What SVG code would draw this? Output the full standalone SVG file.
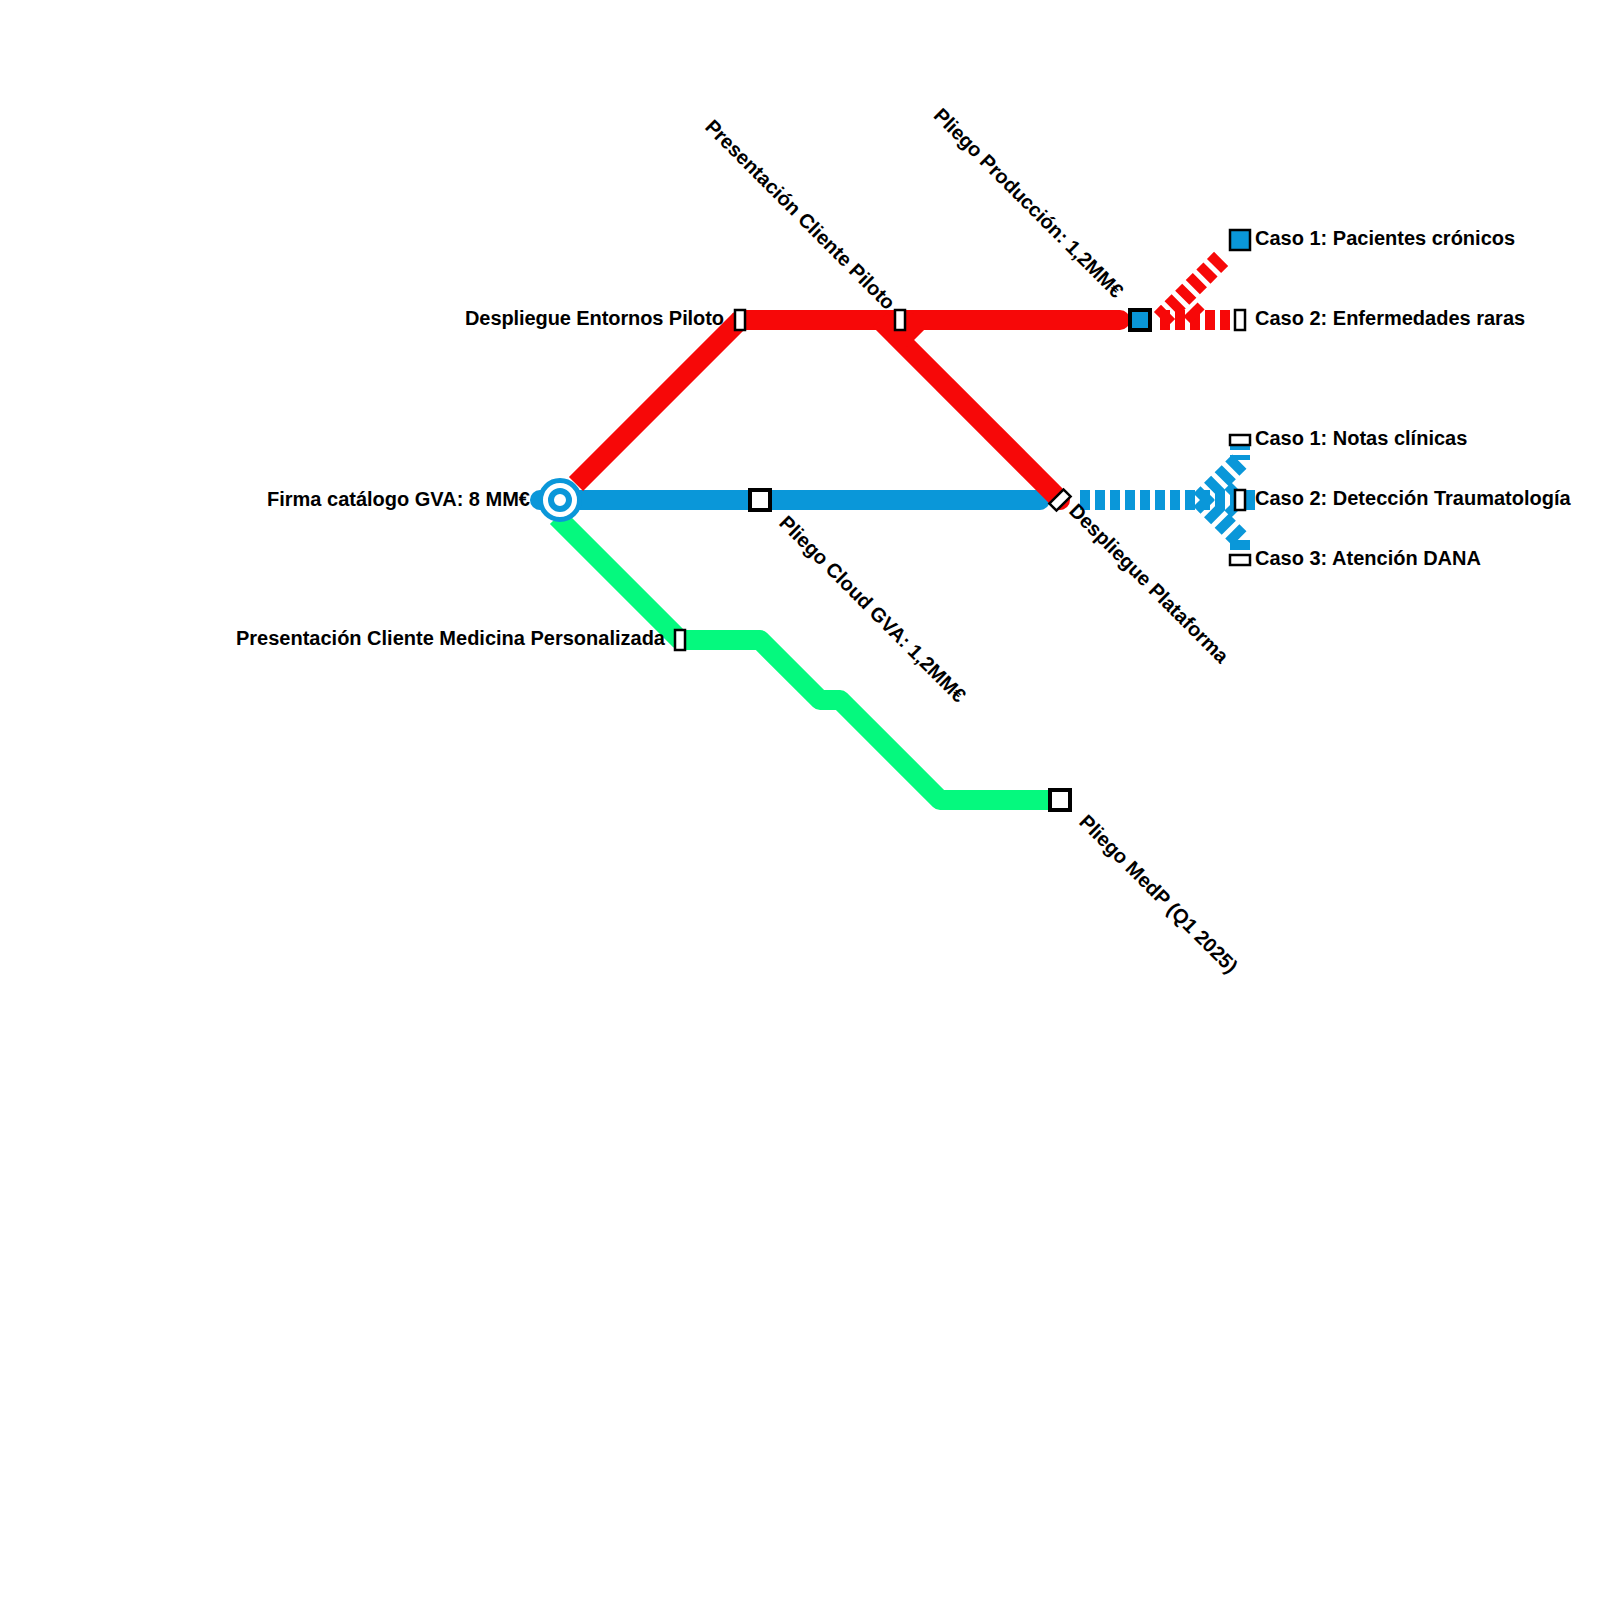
<svg xmlns="http://www.w3.org/2000/svg" width="1600" height="1600" viewBox="0 0 1600 1600">
<style>
.l{fill:none;stroke-width:20;stroke-linejoin:round}
.cap{stroke-linecap:round}
.d{stroke-dasharray:10 5}
.red{stroke:#f70808}.blue{stroke:#0a97d9}.green{stroke:#05f97e}
.s{fill:#fff;stroke:#000;stroke-width:2.5}
.t{stroke-width:4}
.b{fill:#0a97d9}
text{font-family:"Liberation Sans",Arial,sans-serif;font-weight:700;font-size:20px;fill:#000}
.e{text-anchor:end}
</style>
<g id="connectors">
<path class="l green" d="M557,517L680,640H760L820,700H840L940,800H1060"/>
<path class="l blue cap" d="M540,500H1040"/>
<path class="l red" d="M576,484L740,320"/>
<path class="l red cap" d="M740,320H1120"/>
<path class="l red" d="M880,320L1060,500"/>
<path class="l red cap" d="M1060,500h0"/>
<path class="l red" d="M900,340L920,320"/>
<path class="l red d" d="M1160,320H1230"/>
<path class="l red d" d="M1161,319L1224,256"/>
<path class="l red" d="M1190.500,309.500L1197.500,316.500"/>
<path class="l blue d" d="M1080,500H1255"/>
<path class="l blue d" d="M1200.500,500.500L1241,460"/>
<path class="l blue d" d="M1200.500,499.500L1241,540"/>
<path class="l blue" d="M1231.500,496.500L1238.500,489.500M1231.500,503.500L1238.500,510.500"/>
<path class="l blue" d="M1240,445V450M1240,455V460M1240,540V550"/>
</g>
<g id="n-firma"><circle cx="560" cy="500" r="19.500" fill="#fff" stroke="#0a97d9" stroke-width="5"/><circle cx="560" cy="500" r="9" fill="#fff" stroke="#0a97d9" stroke-width="6"/><text class="e" x="530" y="506">Firma catálogo GVA: 8 MM€</text></g>
<g id="n-entornos"><rect class="s" x="735" y="310" width="10" height="20"/><text class="e" x="724" y="325" textLength="259">Despliegue Entornos Piloto</text></g>
<g id="n-piloto"><rect class="s" x="895" y="310" width="10" height="20"/><text class="e" transform="rotate(45 887 311)" x="887" y="311">Presentación Cliente Piloto</text></g>
<g id="n-prod"><rect class="b" x="1130" y="310" width="20" height="20" stroke="#000" stroke-width="4"/><text class="e" transform="rotate(45 1115 299)" x="1115" y="299" textLength="258">Pliego Producción: 1,2MM€</text></g>
<g id="n-cloud"><rect class="s t" x="750" y="490" width="20" height="20"/><text transform="rotate(45 778 524)" x="778" y="524">Pliego Cloud GVA: 1,2MM€</text></g>
<g id="n-plat"><rect class="s" x="1055" y="490" width="10" height="20" transform="rotate(45 1060 500)"/><text transform="rotate(45 1068 512)" x="1068" y="512">Despliegue Plataforma</text></g>
<g id="n-pers"><rect class="s" x="675" y="630" width="10" height="20"/><text class="e" x="665" y="645">Presentación Cliente Medicina Personalizada</text></g>
<g id="n-medp"><rect class="s t" x="1050" y="790" width="20" height="20"/><text transform="rotate(45 1078 823)" x="1078" y="823">Pliego MedP (Q1 2025)</text></g>
<g id="n-c1p"><rect class="b" x="1230" y="230" width="20" height="20" stroke="#000" stroke-width="2.500"/><text x="1255" y="245">Caso 1: Pacientes crónicos</text></g>
<g id="n-c2e"><rect class="s" x="1235" y="310" width="10" height="20"/><text x="1255" y="325">Caso 2: Enfermedades raras</text></g>
<g id="n-c1n"><rect class="s" x="1230" y="435" width="20" height="10"/><text x="1255" y="445">Caso 1: Notas clínicas</text></g>
<g id="n-c2d"><rect class="s" x="1235" y="490" width="10" height="20"/><text x="1255" y="505">Caso 2: Detección Traumatología</text></g>
<g id="n-c3d"><rect class="s" x="1230" y="555" width="20" height="10"/><text x="1255" y="565">Caso 3: Atención DANA</text></g>
</svg>
